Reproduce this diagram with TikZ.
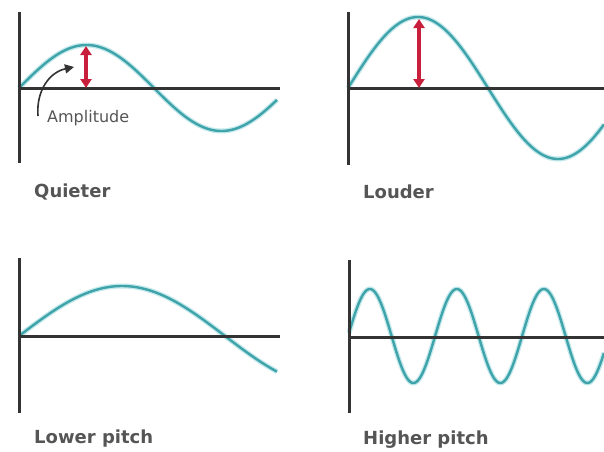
\documentclass[tikz,border=0pt]{standalone}
\usepackage{fontspec}
\newfontfamily\lblfont{DejaVu Sans}
\usetikzlibrary{arrows.meta}
\definecolor{wavecol}{HTML}{3FA3AA}
\definecolor{waveglow}{HTML}{C4E9EC}
\definecolor{ampred}{HTML}{C8203C}
\definecolor{axiscol}{HTML}{333333}
\definecolor{labelcol}{HTML}{555555}
\tikzset{
  axisline/.style={draw=axiscol, line width=3pt},
  wavelineglow/.style={draw=waveglow, line width=5pt, line join=round},
  waveline/.style={draw=wavecol, line width=2.4pt, line join=round},
  amparrow/.style={draw=ampred, line width=3.4pt, {Triangle[length=9pt,width=11pt]}-{Triangle[length=9pt,width=11pt]}, fill=ampred},
  caption/.style={anchor=base west, inner sep=0pt, text=labelcol, font=\lblfont\bfseries\fontsize{18}{20}\selectfont},
  smalllabel/.style={anchor=base west, inner sep=0pt, text=labelcol, font=\lblfont\fontsize{16}{18}\selectfont},
  pointer/.style={draw=axiscol, line width=1.6pt, -{Triangle[length=9pt,width=9pt]}}
}
\begin{document}
\begin{tikzpicture}[x=1pt,y=-1pt]
\useasboundingbox[fill=white] (0,0) rectangle (604,451);

% ---------- Top-left: Quieter ----------
\foreach \s in {wavelineglow,waveline}{
  \draw[\s] plot[domain=19:277, samples=120] (\x,{88-43*sin((\x-19)/270*360)});
}
\coordinate (tlv1) at (19,12);
\coordinate (tlv2) at (19,163);
\coordinate (tlh1) at (19,88);
\coordinate (tlh2) at (280,88);
\draw[axisline] (tlv1) -- (tlv2);
\draw[axisline] (tlh1) -- (tlh2);
\coordinate (tla1) at (86,46);
\coordinate (tla2) at (86,88);
\draw[amparrow] (tla1) -- (tla2);
\node[smalllabel] (amp) at (47,122) {Amplitude};
\coordinate (ptail) at (38,116);
\coordinate (ptip) at (74,67);
\draw[pointer] (ptail) .. controls (36,90) and (50,72) .. (ptip);
\node[caption] (quieter) at (34,197) {Quieter};

% ---------- Top-right: Louder ----------
\foreach \s in {wavelineglow,waveline}{
  \draw[\s] plot[domain=348:604, samples=120] (\x,{88-71*sin((\x-348)/280*360)});
}
\coordinate (trv1) at (348,12);
\coordinate (trv2) at (348,165);
\coordinate (trh1) at (348,88);
\coordinate (trh2) at (604,88);
\draw[axisline] (trv1) -- (trv2);
\draw[axisline] (trh1) -- (trh2);
\coordinate (tra1) at (419,19);
\coordinate (tra2) at (419,88);
\draw[amparrow] (tra1) -- (tra2);
\node[caption] (louder) at (363,198) {Louder};

% ---------- Bottom-left: Lower pitch ----------
\foreach \s in {wavelineglow,waveline}{
  \draw[\s] plot[domain=19:277, samples=120] (\x,{336-50*sin((\x-19)/412*360)});
}
\coordinate (blv1) at (19,258);
\coordinate (blv2) at (19,413);
\coordinate (blh1) at (19,336);
\coordinate (blh2) at (280,336);
\draw[axisline] (blv1) -- (blv2);
\draw[axisline] (blh1) -- (blh2);
\node[caption] (lower) at (34,443) {Lower pitch};

% ---------- Bottom-right: Higher pitch ----------
\foreach \s in {wavelineglow,waveline}{
  \draw[\s] plot[domain=349:604, samples=300] (\x,{336-47*sin((\x-351)/87*360+12)});
}
\coordinate (brv1) at (349,260);
\coordinate (brv2) at (349,413);
\coordinate (brh1) at (349,337);
\coordinate (brh2) at (604,337);
\draw[axisline] (brv1) -- (brv2);
\draw[axisline] (brh1) -- (brh2);
\node[caption] (higher) at (363,444) {Higher pitch};
\end{tikzpicture}
\end{document}
